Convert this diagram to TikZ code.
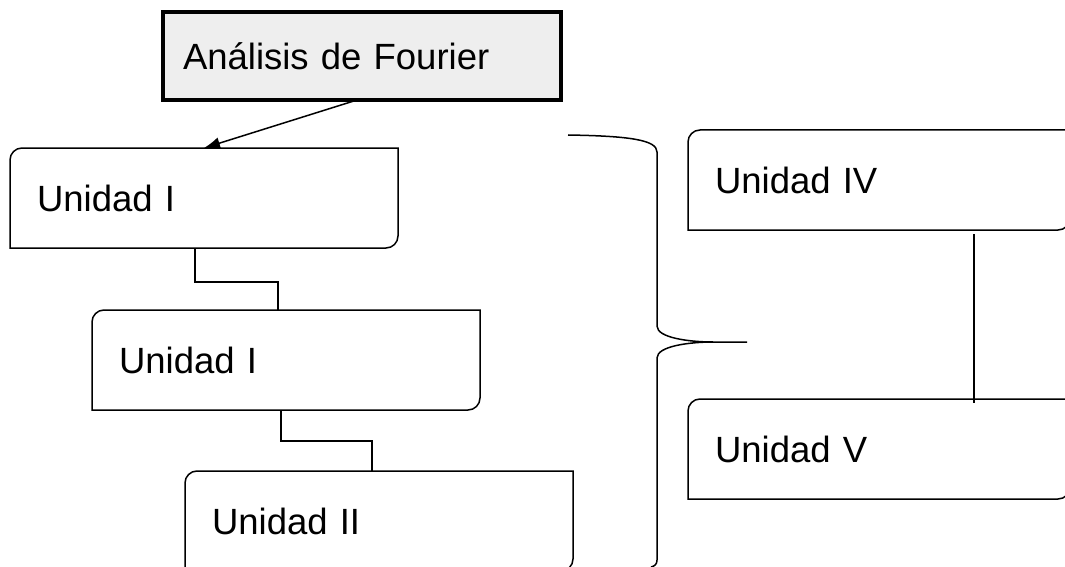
\documentclass[tikz,border=0pt]{standalone}
\usepackage{fontspec}
\setmainfont{Liberation Sans}
\usetikzlibrary{arrows.meta}
\definecolor{headgray}{RGB}{238,238,238}
\begin{document}
\begin{tikzpicture}[x=1pt,y=1pt,
    txt/.style={font=\fontsize{36.5}{44}\selectfont},
    head/.style={txt,draw,line width=3.2pt,fill=headgray,anchor=north west,
        outer sep=0pt,inner xsep=20pt,text width=358pt,minimum height=88pt,align=left},
    unit/.style={txt,anchor=north west,outer sep=0pt,inner xsep=27pt,
        text width=334pt,minimum height=100pt,align=left},
    unitline/.style={line width=1.5pt},
    link/.style={line width=1.5pt}]
    \useasboundingbox (0,0) rectangle (1065,-567);

    % title
    \node[head] (fourier) at (163,-12) {Análisis de Fourier};

    % units
    \node[unit] (u1) at (10,-148) {Unidad I};
    \node[unit] (u2) at (92,-310) {Unidad I};
    \node[unit] (u3) at (185,-471) {Unidad II};
    \node[unit,text width=328pt] (u4) at (688,-130) {Unidad IV};
    \node[unit,text width=328pt] (u5) at (688,-399) {Unidad V};

    % box outlines, round corners top left and bottom right
    \foreach \n in {u1,u2,u3,u4,u5}
    {
        \draw[unitline] (\n.south west) -- ([yshift=-12pt]\n.north west)
            arc[start angle=180,end angle=90,radius=12pt] -- (\n.north east)
            -- ([yshift=12pt]\n.south east)
            arc[start angle=0,end angle=-90,radius=12pt] -- cycle;
    }

    % connectors
    \draw[link,-{Latex[length=16pt,width=12pt]}] ([xshift=-5pt]fourier.south) -- (u1.north);
    \draw[link] ([xshift=-9pt]u1.south) -- ++(0,-34) -| ([xshift=-8pt]u2.north);
    \draw[link] ([xshift=-5pt]u2.south) -- ++(0,-31) -| ([xshift=-7pt]u3.north);
    \draw[line width=1.2pt] ([xshift=95pt,yshift=-4pt]u4.south) -- ([xshift=95pt,yshift=-4pt]u5.north);

    % brace
    \draw[line width=1.5pt]
    (568,-135)
    .. controls (630,-136) and (657,-140) .. (657,-152)
    -- (657,-326)
    .. controls (657,-338) and (690,-342) .. (713,-342)
    -- (747,-342);
    \draw[line width=1.5pt]
    (713,-342)
    .. controls (690,-342) and (657,-346) .. (657,-358)
    -- (657,-560)
    .. controls (657,-564) and (655,-566) .. (651,-567);
\end{tikzpicture}
\end{document}
